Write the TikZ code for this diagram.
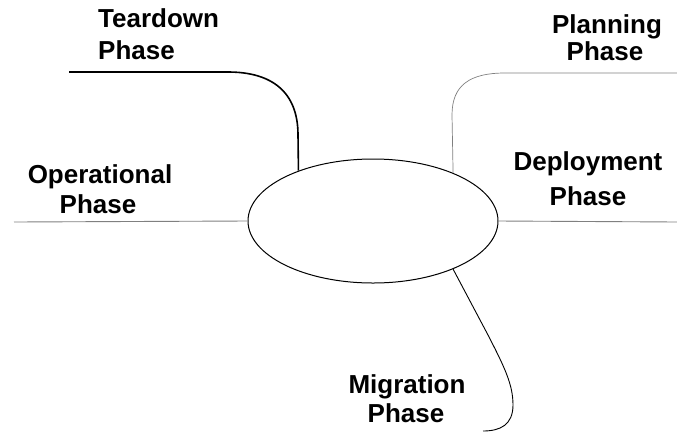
\documentclass[tikz,border=0pt]{standalone}
\usepackage{fontspec}
\setmainfont{Liberation Sans}
\usetikzlibrary{shapes.geometric}
\begin{document}
\begin{tikzpicture}[x=1pt,y=-1pt,
  lbl/.style={font=\fontsize{26}{30}\selectfont\bfseries, inner sep=0pt, anchor=base},
  lblw/.style={lbl, anchor=base west},
  grayline/.style={draw=black!50, line width=0.9pt},
  blackline/.style={draw=black, line width=0.9pt},
  thickline/.style={draw=black, line width=1.6pt}]
\useasboundingbox (0,0) rectangle (677,432);
\node[ellipse, draw, line width=1pt, minimum width=250pt, minimum height=124pt, inner sep=0pt] (ell) at (373,221) {};
% labels
\node[lblw] (td1) at (98,27) {Teardown};
\node[lblw] (td2) at (98,59) {Phase};
\node[lbl] (pl1) at (607,33) {Planning};
\node[lbl] (pl2) at (605,60) {Phase};
\node[lbl] (op1) at (100,183) {Operational};
\node[lbl] (op2) at (98,213) {Phase};
\node[lbl] (de1) at (588,170) {Deployment};
\node[lbl] (de2) at (588,205) {Phase};
\node[lbl] (mi1) at (407,393) {Migration};
\node[lbl] (mi2) at (406,422) {Phase};
% connector free ends
\coordinate (tdEnd) at (69,72);
\coordinate (plEnd) at (677,73);
\coordinate (opEnd) at (14,222);
\coordinate (deEnd) at (677,222);
\coordinate (miEnd) at (483,431);
% connectors
\draw[thickline] (tdEnd) -- (228,72) .. controls (272,72) and (298,92) .. (298,135) -- (ell.146.5);
\draw[grayline, line width=0.7pt] (ell.31.3) -- (452,115) .. controls (452,85) and (470,73) .. (505,73) -- (plEnd);
\draw[grayline] (opEnd) -- (ell.west);
\draw[grayline] (ell.east) -- (deEnd);
\draw[blackline] (ell.-31.3) -- (488,335) .. controls (505,368) and (513,385) .. (513,405) .. controls (513,425) and (500,431) .. (miEnd);
\end{tikzpicture}
\end{document}
